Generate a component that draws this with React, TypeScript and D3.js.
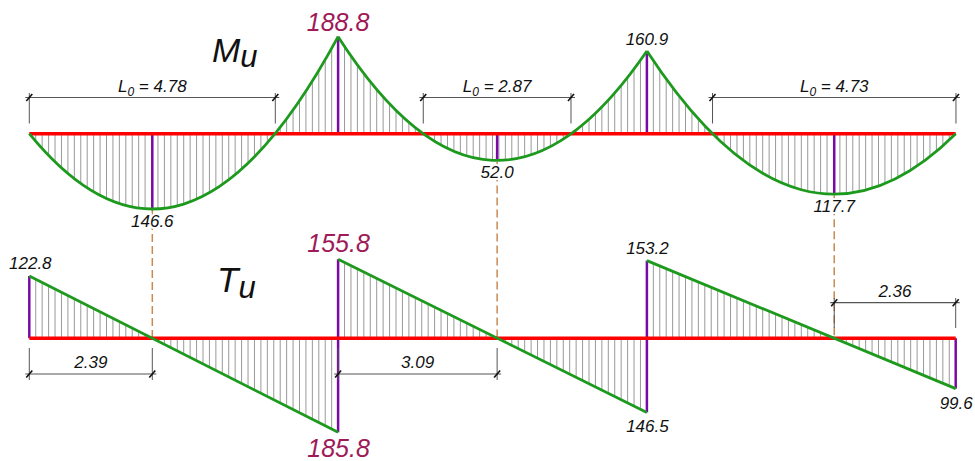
import React from 'react';
import * as d3 from 'd3';

// beam: three spans, values in kN·m (moment) and kN (shear)
const spanLengths = [6, 6, 6];
const supportMoments = [0, -188.8, -160.9, 0]; // hogging negative
const spanMoments = [146.6, 52.0, 117.7];
const shearLeft = [122.8, 155.8, 153.2];
const shearRight = [-185.8, -146.5, -99.6];
const zeroShear = [2.39, 3.09, 2.36]; // spans 1,2 from left support, span 3 from right end
const l0Values = [4.78, 2.87, 4.73];
const criticalSupport = 1;

const W = 975;
const H = 461;
const FONT = '"Liberation Sans", Arial, sans-serif';
const RED = '#ff0000';
const GREEN = '#1d9a1d';
const PURPLE = '#7a0aa6';
const MAROON = '#9e1a58';
const HATCH = '#999999';
const DIM = '#555555';
const DASH = '#c98a52';
const STEP = 0.125;

const supports = Array.from(d3.cumsum([0, ...spanLengths]));
const total = supports[supports.length - 1];

const x = d3.scaleLinear().domain([0, total]).range([29.3, 955.7]);
const yM = d3.scaleLinear()
  .domain([d3.min(supportMoments) as number, d3.max(spanMoments) as number])
  .range([36.7, 209]);
const yV = d3.scaleLinear()
  .domain([d3.min(shearRight) as number, d3.max(shearLeft) as number])
  .range([432.3, 259.3]);

const vertexPos = zeroShear.map((d, i) => (i === zeroShear.length - 1 ? total - d : supports[i] + d));

function Label(props: { x: number; y: number; text: string; big?: boolean }) {
  return (
    <text x={props.x} y={props.y} textAnchor="middle" fontFamily={FONT} fontStyle="italic"
      fontSize={props.big ? 25 : 17} fill={props.big ? MAROON : '#111'}
      stroke="#fff" strokeWidth={4} style={{ paintOrder: 'stroke' }}>
      {props.text}
    </text>
  );
}

function Dim(props: { x0: number; x1: number; y: number; e0: number; e1: number; children: React.ReactNode; ly: number }) {
  const { x0, x1, y, e0, e1 } = props;
  return (
    <g>
      <line x1={x0} x2={x0} y1={e0} y2={e1} stroke={DIM} strokeWidth={1} />
      <line x1={x1} x2={x1} y1={e0} y2={e1} stroke={DIM} strokeWidth={1} />
      <line x1={x0 - 4} x2={x1 + 4} y1={y} y2={y} stroke={DIM} strokeWidth={1.2} />
      {[x0, x1].map((xx, i) => (
        <line key={i} x1={xx - 3} y1={y + 3.5} x2={xx + 3} y2={y - 3.5} stroke="#111" strokeWidth={1.6} />
      ))}
      <text x={(x0 + x1) / 2} y={props.ly} textAnchor="middle" fontFamily={FONT} fontStyle="italic" fontSize={17} fill="#111">
        {props.children}
      </text>
    </g>
  );
}

export default function App() {
  const baseM = yM(0);
  const baseV = yV(0);

  // moment parabolas as quadratic curves (control point from end tangents = shear)
  const spans = spanLengths.map((L, i) => {
    const x0 = supports[i];
    const Ml = supportMoments[i];
    const Mr = supportMoments[i + 1];
    const Mc = Ml + shearLeft[i] * L / 2;
    const p = d3.path();
    p.moveTo(x(x0), yM(Ml));
    p.quadraticCurveTo(x(x0 + L / 2), yM(Mc), x(x0 + L), yM(Mr));
    const hatches: { xx: number; m: number; v: number }[] = [];
    const n = Math.round(L / STEP);
    for (let k = 1; k < n; k++) {
      const t = k / n;
      const m = (1 - t) * (1 - t) * Ml + 2 * t * (1 - t) * Mc + t * t * Mr;
      const v = shearLeft[i] + (shearRight[i] - shearLeft[i]) * t;
      hatches.push({ xx: x(x0 + t * L), m, v });
    }
    return { x0, L, path: p.toString(), hatches };
  });

  return (
    <svg width={W} height={H} style={{ position: 'absolute', left: 0, top: 0, background: '#fff' }}>
      {/* hatching */}
      {spans.map((s, i) => (
        <g key={'h' + i} stroke={HATCH} strokeWidth={1}>
          {s.hatches.map((h, k) => (
            <g key={k}>
              <line x1={h.xx} x2={h.xx} y1={baseM} y2={yM(h.m)} />
              <line x1={h.xx} x2={h.xx} y1={baseV} y2={yV(h.v)} />
            </g>
          ))}
        </g>
      ))}

      {/* dashed links from max moment to zero shear */}
      {vertexPos.map((p, i) => (
        <line key={'d' + i} x1={x(p)} x2={x(p)} y1={yM(spanMoments[i]) + 1} y2={baseV}
          stroke={DASH} strokeWidth={1.5} strokeDasharray="8,4" />
      ))}

      {/* purple ordinates */}
      {vertexPos.map((p, i) => (
        <line key={'pm' + i} x1={x(p)} x2={x(p)} y1={baseM} y2={yM(spanMoments[i])} stroke={PURPLE} strokeWidth={2.5} />
      ))}
      {supportMoments.map((m, i) => m !== 0 && (
        <line key={'ps' + i} x1={x(supports[i])} x2={x(supports[i])} y1={baseM} y2={yM(m)} stroke={PURPLE} strokeWidth={2.5} />
      ))}
      {supports.map((s, i) => {
        const top = i < shearLeft.length ? shearLeft[i] : 0;
        const bot = i > 0 ? shearRight[i - 1] : 0;
        return <line key={'pv' + i} x1={x(s)} x2={x(s)} y1={yV(bot)} y2={yV(top)} stroke={PURPLE} strokeWidth={2.5} />;
      })}

      {/* baselines */}
      <line x1={x(0)} x2={x(total)} y1={baseM} y2={baseM} stroke={RED} strokeWidth={3.5} />
      <line x1={x(0)} x2={x(total)} y1={baseV} y2={baseV} stroke={RED} strokeWidth={3.5} />

      {/* diagrams */}
      {spans.map((s, i) => (
        <g key={'c' + i}>
          <path d={s.path} fill="none" stroke={GREEN} strokeWidth={2.8} />
          <line x1={x(s.x0)} y1={yV(shearLeft[i])} x2={x(s.x0 + s.L)} y2={yV(shearRight[i])} stroke={GREEN} strokeWidth={2.8} />
        </g>
      ))}

      {/* L0 dimensions */}
      {l0Values.map((l, i) => {
        const a = x(vertexPos[i] - l / 2);
        const b = x(vertexPos[i] + l / 2);
        return (
          <Dim key={'l' + i} x0={a} x1={b} y={97.5} e0={93} e1={123.5} ly={91.5}>
            L<tspan fontSize={12} dy={4}>0</tspan><tspan dy={-4}>{' = ' + l.toFixed(2)}</tspan>
          </Dim>
        );
      })}

      {/* zero shear dimensions */}
      <Dim x0={x(supports[0])} x1={x(vertexPos[0])} y={374} e0={348} e1={380} ly={368}>{zeroShear[0].toFixed(2)}</Dim>
      <Dim x0={x(supports[1])} x1={x(vertexPos[1])} y={374} e0={348} e1={380} ly={368}>{zeroShear[1].toFixed(2)}</Dim>
      <Dim x0={x(vertexPos[2])} x1={x(total)} y={302.7} e0={298} e1={328} ly={296.7}>{zeroShear[2].toFixed(2)}</Dim>

      {/* moment labels */}
      {supportMoments.map((m, i) => m !== 0 && (
        <Label key={'ms' + i} x={x(supports[i])} y={yM(m) - 6} text={Math.abs(m).toFixed(1)} big={i === criticalSupport} />
      ))}
      {spanMoments.map((m, i) => (
        <Label key={'mm' + i} x={x(vertexPos[i])} y={yM(m) + 18} text={m.toFixed(1)} />
      ))}

      {/* shear labels */}
      {shearLeft.map((v, i) => (
        <Label key={'vl' + i} x={x(supports[i]) + (i === 0 ? 1 : 0.5)} y={yV(v) - 7} text={v.toFixed(1)} big={i === criticalSupport} />
      ))}
      {shearRight.map((v, i) => {
        const big = i + 1 === criticalSupport;
        return (
          <Label key={'vr' + i} x={x(supports[i + 1]) + 0.5} y={yV(v) + (big ? 24.5 : 20)} text={Math.abs(v).toFixed(1)} big={big} />
        );
      })}

      {/* titles */}
      <text x={212} y={62} fontFamily={FONT} fontStyle="italic" fontSize={34} fill="#111">
        M<tspan dy={5} fontSize={31}>u</tspan>
      </text>
      <text x={217} y={292} fontFamily={FONT} fontStyle="italic" fontSize={35} fill="#111">
        T<tspan dy={6} fontSize={31}>u</tspan>
      </text>
    </svg>
  );
}
